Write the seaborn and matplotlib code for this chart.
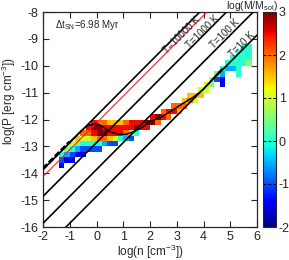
import numpy as np
import matplotlib
matplotlib.use("Agg")
import matplotlib.pyplot as plt
import seaborn as sns

sns.set_style("ticks")
plt.rcParams["font.family"] = ["Liberation Sans", "DejaVu Sans"]
plt.rcParams["mathtext.fontset"] = "custom"
plt.rcParams["mathtext.rm"] = "Liberation Sans"
plt.rcParams["mathtext.it"] = "Liberation Sans:italic"
plt.rcParams["axes.unicode_minus"] = False

# isotherms P = n k T
temps = [10000, 1000, 100, 10]
temp_labels = ["T=10000 K", "T=1000 K", "T=100 K", "T=10 K"]
label_n = [3.18, 3.98, 4.80, 5.45]
label_p = [-8.84, -8.74, -8.80, -9.20]
red_temp = 5400
k_b = 1.38e-16
line_n = [-2.0, 6.0]

# black mean curve through the gas
curve_n = [-1.0, -0.6, -0.3, 0.0, 0.2, 0.5, 0.8, 1.1, 1.4, 1.7, 2.0, 2.4, 2.8, 3.2, 3.6, 4.0, 4.4, 4.7]
curve_p = [-12.83, -12.45, -12.2, -12.15, -12.25, -12.45, -12.55, -12.55, -12.45, -12.3,
           -12.08, -11.92, -11.68, -11.42, -11.18, -10.88, -10.42, -10.1]
dash_n = [-2.0, -1.0]
dash_p = [-13.83, -12.83]

# log(M/Msol) map, cells of 0.2 dex; rows from logP=-9 (top) down to -14,
# columns from logn=-1.4 to 5.8; char index*0.5-2 gives the value
levels = "0123456789A"
mass_rows = [
    "....................................",
    "..................................44",
    ".................................444",
    "................................4444",
    "...............................44445",
    "..............................4334..",
    ".............................53..4..",
    "............................621.....",
    "...........................65.1.....",
    "..........................66........",
    "........................777.........",
    ".......................786..........",
    ".....................888............",
    "...................8997.............",
    ".................9A98...............",
    "......9887778999AA8.................",
    ".....9AA999999A99...................",
    "....889AA999854.....................",
    "...76678876432......................",
    "..654444322.........................",
    ".5432222............................",
    "43211...............................",
    "211.................................",
    "1...................................",
    "....................................",
]
n_edges = np.linspace(-1.4, 5.8, 37)
p_edges = np.linspace(-9.0, -14.0, 26)

grid = np.array([[levels.index(c) * 0.5 - 2 if c != "." else np.nan for c in row]
                 for row in mass_rows])
grid = np.ma.masked_invalid(grid)

fig = plt.figure(figsize=(2.89, 2.6), dpi=100)
ax = fig.add_axes([43 / 289, 33 / 260, 214 / 289, 215 / 260])
cax = fig.add_axes([263 / 289, 33 / 260, 13 / 289, 215 / 260])

mesh = ax.pcolormesh(n_edges, p_edges, grid, cmap="jet", vmin=-2, vmax=3, zorder=1)

for t in temps:
    sns.lineplot(x=line_n, y=[n + np.log10(k_b * t) for n in line_n], color="black",
                 lw=1.2, ax=ax, zorder=3)
sns.lineplot(x=line_n, y=[n + np.log10(k_b * red_temp) for n in line_n], color="#ff2020",
             lw=0.8, ax=ax, zorder=3)
sns.lineplot(x=curve_n, y=curve_p, color="black", lw=1.0, sort=False, ax=ax, zorder=4)
ax.plot(dash_n, dash_p, color="black", lw=2.2, ls=(0, (2, 0.8)), zorder=4)

for lab, x, y in zip(temp_labels, label_n, label_p):
    ax.text(x, y, lab, rotation=45, ha="center", va="center", rotation_mode="anchor",
            fontsize=7)

ax.text(0.056, 0.94, "Δt$_{\\mathrm{SN}}$=6.98 Myr", transform=ax.transAxes,
        fontsize=7, ha="left", va="center")

ax.set_xlim(-2, 6)
ax.set_ylim(-16, -8)
ax.set_xticks(range(-2, 7))
ax.set_yticks(range(-16, -7))
ax.tick_params(direction="in", length=4, width=0.8, top=True, right=True,
               labelsize=9, pad=3)
for s in ax.spines.values():
    s.set_linewidth(0.9)
ax.set_xlabel("log(n [cm$^{-3}$])", fontsize=8.5, labelpad=0)
ax.set_ylabel("log(P [erg cm$^{-3}$])", fontsize=8.5)
ax.yaxis.set_label_coords(-0.118, 0.586)

cb = fig.colorbar(mesh, cax=cax)
cb.set_ticks(range(-2, 4))
cb.ax.tick_params(length=0, labelsize=9, pad=2)
cb.outline.set_linewidth(0.8)
for v in range(-1, 3):
    cax.axhline(v, color="black", lw=0.7, ls=(0, (3, 2)))
fig.text(0.872, 0.978, "log(M/M$_{\\mathrm{sol}}$)", fontsize=7.5, ha="center", va="center")

fig.savefig("out.png", dpi=100)
